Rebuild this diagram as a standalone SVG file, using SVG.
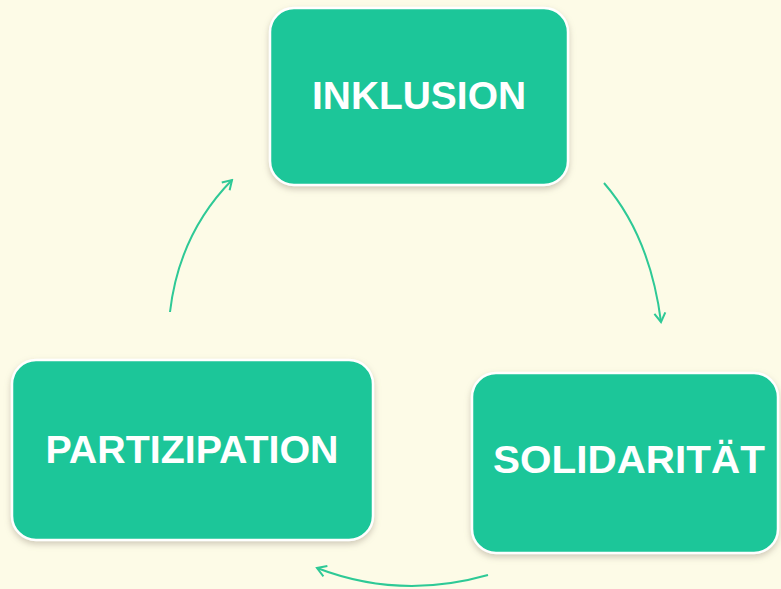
<svg xmlns="http://www.w3.org/2000/svg" width="781" height="589" viewBox="0 0 781 589">
  <style>
    .box { fill: #1cc699; stroke: #ffffff; stroke-width: 2.5; filter: url(#shadow); }
    .label { fill: #ffffff; font-family: "Liberation Sans", Arial, sans-serif; font-weight: bold; font-size: 39px; text-anchor: middle; }
    .flow { fill: none; stroke: #2ec996; stroke-width: 2; marker-end: url(#head); }
  </style>
  <defs>
    <filter id="shadow" x="-10%" y="-10%" width="120%" height="125%">
      <feDropShadow dx="0" dy="3" stdDeviation="3" flood-color="#9a8f80" flood-opacity="0.45"/>
    </filter>
    <marker id="head" viewBox="0 0 14 14" refX="12" refY="7" markerWidth="14" markerHeight="14" markerUnits="userSpaceOnUse" orient="auto">
      <path d="M3,1.5 L12,7 L3,12.5" fill="none" stroke="#2ec996" stroke-width="2"/>
    </marker>
  </defs>

  <rect width="781" height="589" fill="#fdfbe7"/>

  <g id="node-inklusion">
    <rect class="box" x="270" y="8" width="298" height="177" rx="24"/>
    <text class="label" x="419" y="109" textLength="214" lengthAdjust="spacingAndGlyphs">INKLUSION</text>
  </g>

  <g id="node-solidaritaet">
    <rect class="box" x="472" y="373" width="306" height="180" rx="24"/>
    <text class="label" x="629" y="473" textLength="272" lengthAdjust="spacingAndGlyphs">SOLIDARITÄT</text>
  </g>

  <g id="node-partizipation">
    <rect class="box" x="12" y="360" width="361" height="180" rx="24"/>
    <text class="label" x="192" y="463" textLength="293" lengthAdjust="spacingAndGlyphs">PARTIZIPATION</text>
  </g>

  <g id="connectors">
    <path class="flow" d="M604,183 Q650,236 661,322"/>
    <path class="flow" d="M488,575 Q400,600 317,568"/>
    <path class="flow" d="M170,312 Q179,234 232,180"/>
  </g>
</svg>
